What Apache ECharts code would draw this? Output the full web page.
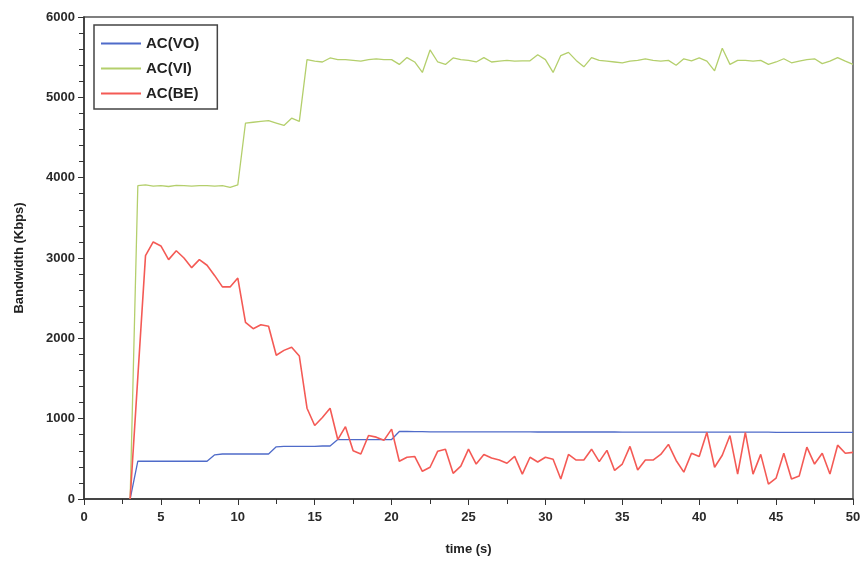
<!DOCTYPE html>
<html>
<head>
<meta charset="utf-8">
<script src="https://cdn.jsdelivr.net/npm/echarts@6/dist/echarts.min.js"></script>
<style>
  html, body { margin: 0; padding: 0; background: #fff; }
  #chart { width: 867px; height: 561px; }
</style>
</head>
<body>
<div id="chart"></div>
<script>
// time (s), one sample every 0.5 s from 3.0 to 50.0
var time = [
  3, 3.5, 4, 4.5, 5, 5.5, 6, 6.5, 7, 7.5,
  8, 8.5, 9, 9.5, 10, 10.5, 11, 11.5, 12, 12.5,
  13, 13.5, 14, 14.5, 15, 15.5, 16, 16.5, 17, 17.5,
  18, 18.5, 19, 19.5, 20, 20.5, 21, 21.5, 22, 22.5,
  23, 23.5, 24, 24.5, 25, 25.5, 26, 26.5, 27, 27.5,
  28, 28.5, 29, 29.5, 30, 30.5, 31, 31.5, 32, 32.5,
  33, 33.5, 34, 34.5, 35, 35.5, 36, 36.5, 37, 37.5,
  38, 38.5, 39, 39.5, 40, 40.5, 41, 41.5, 42, 42.5,
  43, 43.5, 44, 44.5, 45, 45.5, 46, 46.5, 47, 47.5,
  48, 48.5, 49, 49.5, 50
];

var acVO = [
  0, 470, 470, 470, 470, 470, 470, 470, 470, 470,
  470, 550, 560, 560, 560, 560, 560, 560, 560, 650,
  655, 655, 655, 655, 655, 660, 660, 740, 740, 740,
  740, 740, 740, 740, 740, 840, 840, 838, 838, 836,
  836, 836, 836, 836, 836, 836, 836, 836, 835, 835,
  835, 835, 835, 834, 834, 834, 834, 834, 834, 834,
  834, 834, 834, 834, 833, 833, 833, 833, 833, 833,
  833, 833, 833, 833, 833, 832, 832, 832, 832, 832,
  832, 832, 832, 832, 830, 830, 830, 830, 830, 830,
  830, 830, 830, 830, 830
];

var acVI = [
  0, 3900, 3910, 3895, 3900, 3890, 3905, 3900, 3895, 3900,
  3900, 3895, 3900, 3880, 3910, 4680, 4690, 4700, 4710, 4680,
  4650, 4740, 4700, 5470, 5450, 5440, 5490, 5470, 5470, 5460,
  5450, 5470, 5480, 5470, 5470, 5410, 5495, 5440, 5310, 5590,
  5440, 5410, 5490, 5470, 5460, 5440, 5495, 5440, 5450, 5460,
  5450, 5455, 5455, 5530, 5470, 5310, 5520, 5560, 5460, 5380,
  5495, 5460, 5450, 5440, 5430, 5450, 5460, 5480, 5460, 5450,
  5460, 5400, 5480, 5455, 5490, 5450, 5330, 5610, 5410, 5460,
  5460, 5450, 5460, 5410, 5440, 5480, 5430, 5450, 5470, 5480,
  5420, 5450, 5495, 5450, 5410
];

var acBE = [
  0, 1520, 3030, 3200, 3150, 2980, 3090, 3000, 2880, 2980,
  2910, 2780, 2640, 2640, 2750, 2200, 2120, 2170, 2150, 1790,
  1850, 1890, 1780, 1130, 915, 1015, 1130, 740, 900, 600,
  560, 790, 770, 730, 870, 470, 520, 530, 345, 395,
  595, 620, 320, 410, 620, 435, 555, 510, 485, 445,
  530, 310, 520, 460, 520, 495, 250, 555, 485, 485,
  620, 465, 605, 355, 435, 655, 360, 485, 485, 555,
  680, 480, 335, 570, 530, 830, 395, 545, 790, 310,
  830, 310, 555, 185, 260, 570, 250, 285, 645, 435,
  570, 310, 670, 570, 580
];

function pairs(values) {
  return values.map(function (v, i) { return [time[i], v]; });
}

var chart = echarts.init(document.getElementById('chart'), null, { renderer: 'canvas' });

var font = 'Liberation Sans, Arial, sans-serif';
var axisText = { fontFamily: font, fontSize: 13, fontWeight: 'bold', color: '#2a2a2a' };
var plain = function (v) { return String(v); };

chart.setOption({
  animation: false,
  backgroundColor: '#fff',
  grid: {
    left: 84, right: 14, top: 17, bottom: 59,
    show: true, borderColor: '#555', borderWidth: 1.5, backgroundColor: 'transparent'
  },
  legend: {
    orient: 'vertical',
    left: 94, top: 25,
    padding: [11, 18, 8, 6],
    itemGap: 10,
    itemWidth: 40, itemHeight: 15,
    borderColor: '#444', borderWidth: 1.5,
    itemStyle: { opacity: 0 },   // hide the symbol, keep the line
    textStyle: { fontFamily: font, fontSize: 15, fontWeight: 'bold', color: '#222' },
    data: ['AC(VO)', 'AC(VI)', 'AC(BE)']
  },
  xAxis: {
    type: 'value', min: 0, max: 50, interval: 5,
    name: 'time (s)', nameLocation: 'middle', nameGap: 44,
    nameTextStyle: { fontFamily: font, fontSize: 13, fontWeight: 'bold', color: '#222' },
    axisLine: { lineStyle: { color: '#333', width: 1.5 } },
    axisTick: { length: 6, lineStyle: { color: '#333' } },
    minorTick: { show: true, splitNumber: 2, length: 5, lineStyle: { color: '#333' } },
    axisLabel: Object.assign({ margin: 12, formatter: plain }, axisText),
    splitLine: { show: false }
  },
  yAxis: {
    type: 'value', min: 0, max: 6000, interval: 1000,
    name: 'Bandwidth (Kbps)', nameLocation: 'middle', nameGap: 58,
    nameTextStyle: { fontFamily: font, fontSize: 13, fontWeight: 'bold', color: '#222' },
    axisLine: { show: true, lineStyle: { color: '#333', width: 1.5 } },
    axisTick: { show: true, length: 6, lineStyle: { color: '#333' } },
    minorTick: { show: true, splitNumber: 5, length: 5, lineStyle: { color: '#333' } },
    axisLabel: Object.assign({ margin: 9, formatter: plain }, axisText),
    splitLine: { show: false }
  },
  series: [
    {
      name: 'AC(VO)', type: 'line', symbol: 'none',
      data: pairs(acVO),
      lineStyle: { color: '#4f6bc9', width: 1.3 },
      itemStyle: { color: '#4f6bc9' }
    },
    {
      name: 'AC(VI)', type: 'line', symbol: 'none',
      data: pairs(acVI),
      lineStyle: { color: '#b4cf6c', width: 1.3 },
      itemStyle: { color: '#b4cf6c' }
    },
    {
      name: 'AC(BE)', type: 'line', symbol: 'none',
      data: pairs(acBE),
      lineStyle: { color: '#f45a55', width: 1.6 },
      itemStyle: { color: '#f45a55' }
    }
  ]
});
</script>
</body>
</html>
